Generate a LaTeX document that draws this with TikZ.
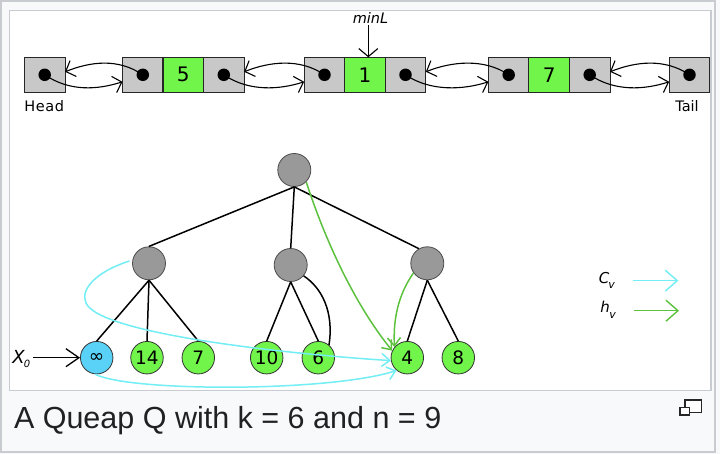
\documentclass[tikz,border=0pt]{standalone}
\usepackage{fontspec}
\setmainfont{DejaVu Sans}
\newfontfamily\capfont{Liberation Sans}
\usetikzlibrary{arrows.meta}

\definecolor{pgbg}{HTML}{F8F9FA}
\definecolor{framec}{HTML}{C8CCD1}
\definecolor{boxgrey}{HTML}{C8C8C8}
\definecolor{nodegrey}{HTML}{999999}
\definecolor{leafgreen}{HTML}{72F54A}
\definecolor{leafblue}{HTML}{5AD2F7}
\definecolor{cyanarr}{HTML}{72EEF4}
\definecolor{greenarr}{HTML}{5CC23E}
\definecolor{captext}{HTML}{202122}

\begin{document}
\begin{tikzpicture}[x=1pt,y=-1pt,
  lbox/.style={draw=black!85,line width=1.1pt,fill=boxgrey,minimum width=40.7pt,minimum height=35pt,inner sep=0pt,outer sep=0pt},
  vbox/.style={lbox,fill=leafgreen,font=\fontsize{20}{22}\selectfont},
  ptr/.style={circle,fill=black,minimum size=12.5pt,inner sep=0pt},
  innernode/.style={circle,draw=black!70,line width=0.8pt,fill=nodegrey,minimum size=33pt,inner sep=0pt},
  leaf/.style={circle,draw=black!80,line width=0.8pt,fill=leafgreen,minimum size=32.5pt,inner sep=0pt,font=\fontsize{18.5}{20}\selectfont},
  link/.style={draw=black,line width=1.1pt,-{Straight Barb[length=8pt,width=17pt]}},
  bigarr/.style={line width=1.4pt,-{Straight Barb[length=12pt,width=21pt]}},
  treeedge/.style={draw=black,line width=1.5pt},
  carr/.style={draw=cyanarr,line width=1.5pt,-{Straight Barb[length=8pt,width=13pt]}},
  garr/.style={draw=greenarr,line width=1.5pt,-{Straight Barb[length=8pt,width=13pt]}},
  lbl/.style={inner sep=0pt,font=\fontsize{14.5}{16}\selectfont},
  itl/.style={inner sep=0pt,font=\itshape\fontsize{15}{18}\selectfont}
]
\useasboundingbox (0,0) rectangle (720,454);
\fill[pgbg] (0,0) rectangle (720,454);
\draw[framec,line width=2pt] (1.3,1.3) rectangle (715,452);
\draw[framec,line width=1.3pt,fill=white] (9.5,10.5) rectangle (711,390.5);

% ---- linked list ----
\node[lbox] (hd) at (44.7,74.8) {};
\node[lbox] (b2l) at (142.8,74.8) {};
\node[vbox] (b2v) at (183.3,74.8) {5};
\node[lbox] (b2r) at (223.8,74.8) {};
\node[lbox] (b3l) at (324.5,74.8) {};
\node[vbox] (b3v) at (365,74.8) {1};
\node[lbox] (b3r) at (405.5,74.8) {};
\node[lbox] (b4l) at (508.7,74.8) {};
\node[vbox] (b4v) at (549.2,74.8) {7};
\node[lbox] (b4r) at (589.7,74.8) {};
\node[lbox] (tl) at (689.5,74.8) {};

\foreach \b in {hd,b2l,b2r,b3l,b3r,b4l,b4r,tl}
  \node[ptr] (\b dot) at (\b) {};

\node[lbl] (headlbl) at (44.3,106) {H\kern0.6pt e\kern0.6pt a\kern0.6pt d};
\node[lbl] (taillbl) at (687,106) {Tail};

\foreach \a/\b in {hd/b2l,b2r/b3l,b3r/b4l,b4r/tl}{
  \draw[link] (\a dot.center) .. controls +(25,17) and +(-25,8) .. ([yshift=-7pt]\b.west);
  \draw[link] (\b dot.center) .. controls +(-25,-17) and +(25,-10) .. ([yshift=3pt]\a.east);
}

\node[itl,font=\itshape\fontsize{14.5}{16}\selectfont] (minl) at (370.5,18) {minL};
\coordinate (mla) at (368.3,25);
\draw[link,-{Straight Barb[length=8pt,width=19pt]}] (mla) -- (mla |- b3v.north);

% ---- tree ----
\node[innernode] (root) at (294.3,170) {};
\node[innernode] (lft) at (149,263.3) {};
\node[innernode] (mid) at (290.7,265) {};
\node[innernode] (rgt) at (427.3,263.3) {};

\node[leaf,fill=leafblue] (inf) at (96.7,357.7) {∞};
\node[leaf] (n14) at (147,357.7) {14};
\node[leaf] (n7) at (198.3,357.7) {7};
\node[leaf] (n10) at (266.7,357.7) {10};
\node[leaf] (n6) at (318.3,357.7) {6};
\node[leaf] (n4) at (407.3,357.7) {4};
\node[leaf] (n8) at (458.3,357.7) {8};

% edges
\draw[treeedge] (root.south) -- (lft.north);
\draw[treeedge] (root.south) -- (mid.north);
\draw[treeedge] (root.south) -- (rgt.120);
\draw[treeedge] (lft.south) -- (inf.north);
\draw[treeedge] (lft.south) -- (n14.north);
\draw[treeedge] (lft.south) -- (n7.north);
\draw[treeedge] (mid.south) -- (n10.north);
\draw[treeedge] (mid.south) -- (n6.north);
\draw[treeedge] (mid.-40) .. controls (322,288) and (334,312) .. (n6.50);
\draw[treeedge] (rgt.south) -- (n4.north);
\draw[treeedge] (rgt.south) -- (n8.north);

% pointer arrows
\draw[garr] (root.-45) .. controls (325,240) and (355,305) .. (n4.155);
\draw[garr] (rgt.215) .. controls (398,295) and (393,320) .. (n4.140);
\coordinate (c1s) at (129.5,261);
\draw[carr] (c1s) .. controls (95,272) and (80,290) .. (86,303)
  .. controls (100,335) and (300,355) .. (n4.190);
\draw[carr] (inf.265) .. controls (130,392) and (330,392) .. (n4.230);

% X0
\node[inner sep=0pt,font=\itshape\fontsize{18}{20}\selectfont] (xlbl) at (18.5,356.5) {X};
\node[inner sep=0pt,font=\itshape\fontsize{10}{12}\selectfont] (xsub) at (27,363.5) {0};
\coordinate (x0s) at (33,357.7);
\draw[bigarr,draw=black,line width=1.3pt,-{Straight Barb[length=13pt,width=18pt]}] (x0s) -- (inf.west);

% legend
\node[itl] (cv) at (604,278.5) {C};
\node[inner sep=0pt,font=\itshape\fontsize{11}{12}\selectfont] (cvs) at (611.5,285) {v};
\node[itl] (hv) at (605,306.5) {h};
\node[inner sep=0pt,font=\itshape\fontsize{11}{12}\selectfont] (hvs) at (612.5,315) {v};
\coordinate (cva) at (633.3,280.7);
\coordinate (cvb) at (678.3,280.7);
\coordinate (hva) at (634,310.7);
\coordinate (hvb) at (679,310.7);
\draw[bigarr,draw=cyanarr] (cva) -- (cvb);
\draw[bigarr,draw=greenarr] (hva) -- (hvb);

% caption
\node[anchor=base west,inner sep=0pt,text=captext,font=\capfont\fontsize{30.5}{34}\selectfont] (cap) at (13.8,428.3) {A Queap Q with k = 6 and n = 9};
\draw[black!85,line width=1.3pt,fill=white] (685,400) rectangle (701.7,412.7);
\draw[black!85,line width=1.3pt,fill=white] (680,407.3) rectangle (689.3,415);
\end{tikzpicture}
\end{document}
